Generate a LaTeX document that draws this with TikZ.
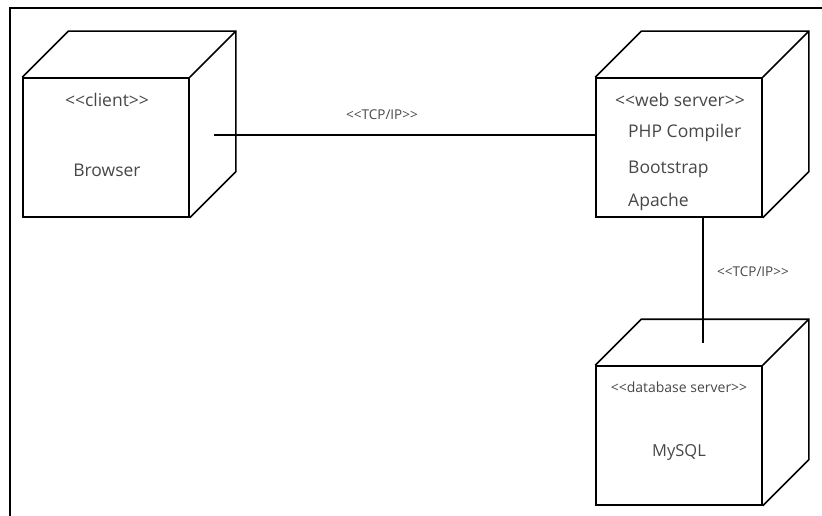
\documentclass[tikz,border=0pt]{standalone}
\usepackage{fontspec}
\newfontfamily\uifont{Open Sans}
\usetikzlibrary{calc}
\tikzset{
  front/.style={draw, line width=1.6pt, minimum width=166pt, minimum height=139pt, inner sep=0pt},
  cubeline/.style={line width=1.6pt, line join=miter},
  conn/.style={line width=1.5pt},
  txt/.style={text=black!72, inner sep=0pt, font=\uifont#1},
  txt/.default=\fontsize{17.5}{20}\selectfont
}
\newcommand{\cubeback}[1]{%
  \draw[cubeline] (#1.north west) -- +(46pt,46pt) -- ($(#1.north east)+(46pt,46pt)$) -- ($(#1.south east)+(46pt,46pt)$) -- (#1.south east);
  \draw[cubeline] (#1.north east) -- +(46pt,46pt);
}
\begin{document}
\begin{tikzpicture}[x=1pt,y=-1pt]
\useasboundingbox (0,0) rectangle (822,516);
% frame
\draw[line width=1.5pt] (10,516) -- (10,8) -- (822,8);
% cubes
\node[front] (client) at (106,147.5) {};
\node[front] (web) at (679,147.5) {};
\node[front] (db) at (679,435.5) {};
\cubeback{client}
\cubeback{web}
\cubeback{db}
% texts
\node[txt=\fontsize{17.5}{20}\selectfont] (t1) at (107,100) {<<client>>};
\node[txt] (t2) at (107,170) {Browser};
\node[txt=\fontsize{17.5}{20}\selectfont] (t3) at (680,100) {<<web server>>};
\node[txt, anchor=west] (t4) at (628,133) {PHP Compiler};
\node[txt, anchor=west] (t5) at (628,169) {Bootstrap};
\node[txt, anchor=west] (t6) at (628,202) {Apache};
\node[txt=\fontsize{14}{16}\selectfont] (t7) at (679,387) {<<database server>>};
\node[txt=\fontsize{16.5}{19}\selectfont] (t8) at (679,452) {MySQL};
% connectors
\coordinate (c1) at (214,135);
\coordinate (c2) at (703,343);
\draw[conn] (c1) -- (c1 -| web.west);
\draw[conn] (c2 |- web.south) -- (c2);
\node[txt=\fontsize{13.5}{15}\selectfont] (l1) at (382,115) {<<TCP/IP>>};
\node[txt=\fontsize{13.5}{15}\selectfont] (l2) at (753,272) {<<TCP/IP>>};
\end{tikzpicture}
\end{document}
